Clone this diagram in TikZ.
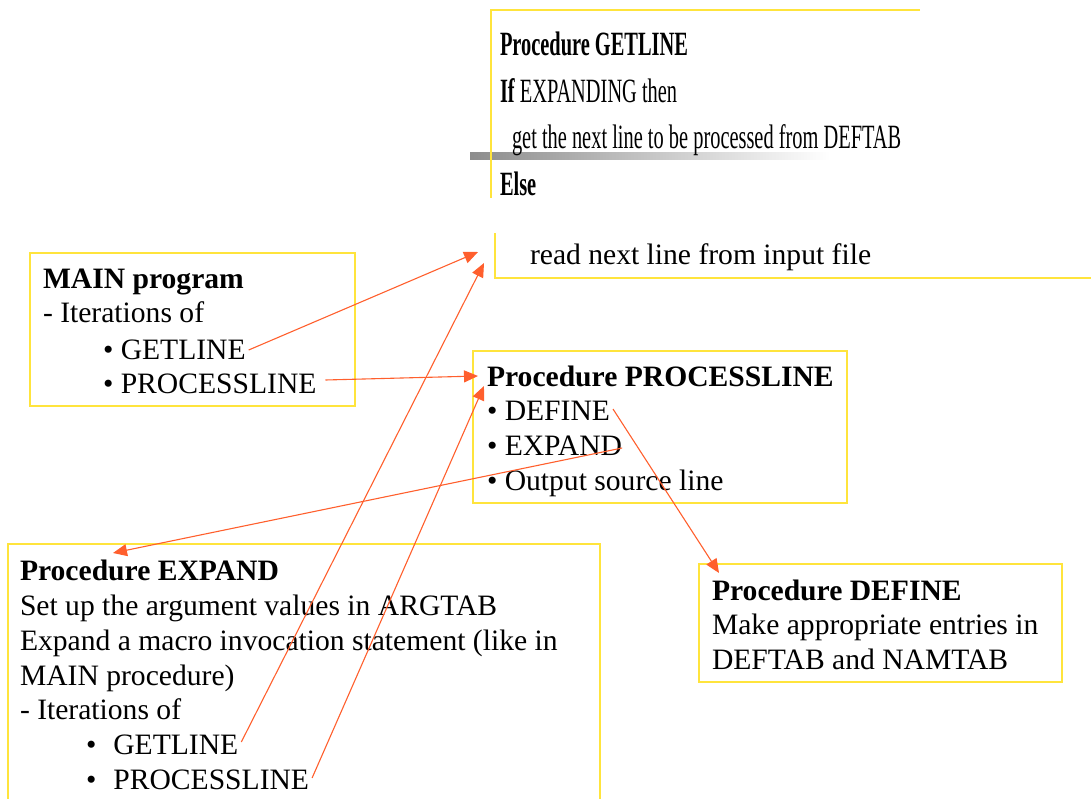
\documentclass[tikz,border=0pt]{standalone}
\usepackage{fontspec}
\setmainfont{Liberation Serif}
\newfontfamily\condfont[FakeStretch=0.6]{Liberation Serif}
\usetikzlibrary{arrows.meta,calc}
\definecolor{boxyellow}{RGB}{255,228,60}
\definecolor{arrred}{RGB}{255,95,45}
\tikzset{
  txt/.style={anchor=base west,inner sep=0pt,outer sep=0pt,font=\fontsize{29.6}{35}\selectfont},
  ctxt/.style={anchor=base west,inner sep=0pt,outer sep=0pt,font=\condfont\fontsize{34}{40}\selectfont},
  ybox/.style={draw=boxyellow,line width=1.6pt},
  arr/.style={draw=arrred,line width=1.1pt,-{Triangle[length=14pt,width=12pt]}},
}
\begin{document}
\begin{tikzpicture}[x=1pt,y=-1pt]
\useasboundingbox (0,0) rectangle (1091,799);
% gray bar
\shade[left color=black!45,right color=white] (470,153) rectangle (830,160);
% GETLINE boxes (open)
\draw[ybox] (920,10) -- (491,10) -- (491,198);
\draw[ybox] (495,233) -- (495,278) -- (1091,278);
\node[ctxt] (g1) at (500,56) {\bfseries Procedure GETLINE};
\node[ctxt] (g2) at (500,103) {\bfseries If\mdseries\ EXPANDING then};
\node[ctxt] (g3) at (512,149) {get the next line to be processed from DEFTAB};
\node[ctxt] (g4) at (500,196) {\bfseries Else};
\node[txt] (g5) at (530,265) {read next line from input file};
\coordinate (getlineA) at (478,252);
\coordinate (getlineB) at (484,263);
% MAIN box
\draw[ybox] (30,253) rectangle (355,406);
\node[txt] (m1) at (43,288) {\bfseries MAIN program};
\node[txt] (m2) at (43,323) {- Iterations of};
\node[txt] (m3) at (103,359) {\textbullet\ GETLINE};
\node[txt] (m4) at (103,393) {\textbullet\ PROCESSLINE};
% PROCESSLINE box
\draw[ybox] (473,351) rectangle (847,503);
\node[txt] (p1) at (487,386) {\bfseries Procedure PROCESSLINE};
\node[txt] (p2) at (487,420) {\textbullet\ DEFINE};
\node[txt] (p3) at (487,455) {\textbullet\ EXPAND};
\node[txt] (p4) at (487,490) {\textbullet\ Output source line};
\coordinate (procA) at (478,376);
\coordinate (procB) at (484,386);
% EXPAND box
\draw[ybox] (8,812) -- (8,544) -- (600,544) -- (600,812);
\node[txt] (e1) at (20,580) {\bfseries Procedure EXPAND};
\node[txt] (e2) at (20,615) {Set up the argument values in ARGTAB};
\node[txt] (e3) at (20,650) {Expand a macro invocation statement (like in};
\node[txt] (e4) at (20,685) {MAIN procedure)};
\node[txt] (e5) at (20,719) {- Iterations of};
\node[txt] (e6) at (86,754) {\textbullet\hspace{17pt}GETLINE};
\node[txt] (e7) at (86,789) {\textbullet\hspace{17pt}PROCESSLINE};
\coordinate (expA) at (113,553);
% DEFINE box
\draw[ybox] (699,564) rectangle (1062,682);
\node[txt] (d1) at (712,600) {\bfseries Procedure DEFINE};
\node[txt] (d2) at (712,634) {Make appropriate entries in};
\node[txt] (d3) at (712,669) {DEFTAB and NAMTAB};
\coordinate (defA) at (719,573);
% arrows
\draw[arr] ($(m3.base east)+(3,-9)$) -- (getlineA);
\draw[arr] ($(m4.base east)+(9,-13)$) -- (procA);
\draw[arr] ($(e6.base east)+(3,-12)$) -- (getlineB);
\draw[arr] ($(e7.base east)+(3,-11)$) -- (procB);
\draw[arr] ($(p2.base east)+(3,-11)$) -- (defA);
\draw[arr] ($(p3.base east)+(0,-7)$) -- (expA);
\end{tikzpicture}
\end{document}
